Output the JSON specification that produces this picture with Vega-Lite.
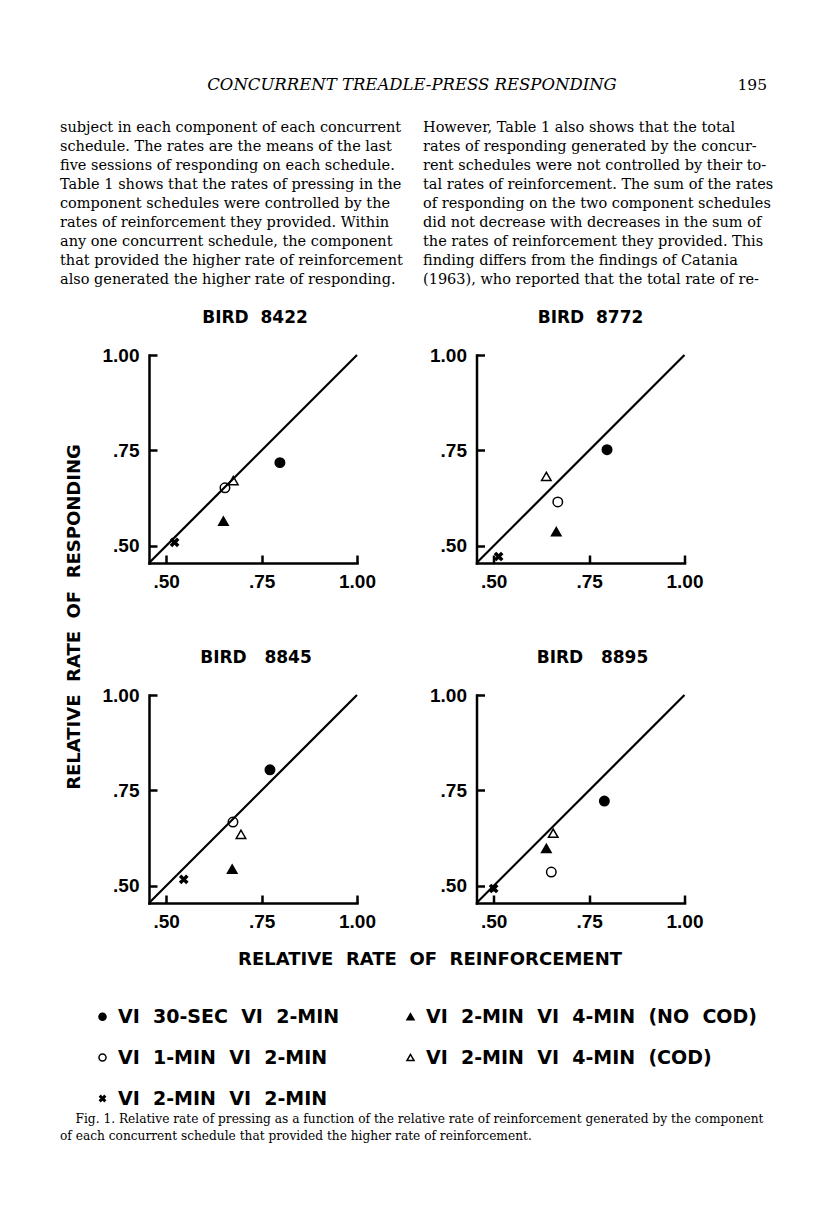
{
  "$schema": "https://vega.github.io/schema/vega-lite/v6.json",
  "background": "white",
  "padding": {"left": 60, "top": 77, "right": 5, "bottom": 5},
  "config": {
    "view": {"stroke": null},
    "axis": {"grid": false, "domainColor": "black", "domainWidth": 2.5, "domainCap": "square", "tickColor": "black", "tickWidth": 2.5, "tickSize": -8, "labelFont": "Liberation Sans", "labelFontWeight": "bold", "labelFontSize": 19, "labelColor": "black", "labelFlush": false, "labelOverlap": false},
    "axisX": {"labelPadding": 17, "labelBaseline": "top"},
    "axisY": {"labelPadding": 18},
    "title": {"font": "DejaVu Sans", "fontWeight": "bold", "fontSize": 17, "color": "black", "baseline": "alphabetic", "offset": 19}
  },
  "datasets": {
    "head": [
      {"role": "title", "text": "CONCURRENT TREADLE-PRESS RESPONDING"},
      {"role": "page", "text": "195"}
    ],
    "body": [
      {"col": "L", "line": 1, "text": "subject in each component of each concurrent"},
      {"col": "L", "line": 2, "text": "schedule. The rates are the means of the last"},
      {"col": "L", "line": 3, "text": "five sessions of responding on each schedule."},
      {"col": "L", "line": 4, "text": "Table 1 shows that the rates of pressing in the"},
      {"col": "L", "line": 5, "text": "component schedules were controlled by the"},
      {"col": "L", "line": 6, "text": "rates of reinforcement they provided. Within"},
      {"col": "L", "line": 7, "text": "any one concurrent schedule, the component"},
      {"col": "L", "line": 8, "text": "that provided the higher rate of reinforcement"},
      {"col": "L", "line": 9, "text": "also generated the higher rate of responding."},
      {"col": "R", "line": 1, "text": "However, Table 1 also shows that the total"},
      {"col": "R", "line": 2, "text": "rates of responding generated by the concur-"},
      {"col": "R", "line": 3, "text": "rent schedules were not controlled by their to-"},
      {"col": "R", "line": 4, "text": "tal rates of reinforcement. The sum of the rates"},
      {"col": "R", "line": 5, "text": "of responding on the two component schedules"},
      {"col": "R", "line": 6, "text": "did not decrease with decreases in the sum of"},
      {"col": "R", "line": 7, "text": "the rates of reinforcement they provided. This"},
      {"col": "R", "line": 8, "text": "finding differs from the findings of Catania"},
      {"col": "R", "line": 9, "text": "(1963), who reported that the total rate of re-"}
    ],
    "diag": [{"x": 0.455, "y": 0.455}, {"x": 1.0, "y": 1.0}],
    "pts": [
      {"bird": "8422", "cond": "VI 30-SEC VI 2-MIN", "x": 0.798, "y": 0.718},
      {"bird": "8422", "cond": "VI 1-MIN VI 2-MIN", "x": 0.654, "y": 0.652},
      {"bird": "8422", "cond": "VI 2-MIN VI 4-MIN (COD)", "x": 0.676, "y": 0.671},
      {"bird": "8422", "cond": "VI 2-MIN VI 4-MIN (NO COD)", "x": 0.650, "y": 0.565},
      {"bird": "8422", "cond": "VI 2-MIN VI 2-MIN", "x": 0.522, "y": 0.509},
      {"bird": "8772", "cond": "VI 30-SEC VI 2-MIN", "x": 0.797, "y": 0.752},
      {"bird": "8772", "cond": "VI 2-MIN VI 4-MIN (COD)", "x": 0.638, "y": 0.682},
      {"bird": "8772", "cond": "VI 1-MIN VI 2-MIN", "x": 0.668, "y": 0.615},
      {"bird": "8772", "cond": "VI 2-MIN VI 4-MIN (NO COD)", "x": 0.664, "y": 0.537},
      {"bird": "8772", "cond": "VI 2-MIN VI 2-MIN", "x": 0.513, "y": 0.472},
      {"bird": "8845", "cond": "VI 30-SEC VI 2-MIN", "x": 0.772, "y": 0.804},
      {"bird": "8845", "cond": "VI 1-MIN VI 2-MIN", "x": 0.675, "y": 0.667},
      {"bird": "8845", "cond": "VI 2-MIN VI 4-MIN (COD)", "x": 0.696, "y": 0.635},
      {"bird": "8845", "cond": "VI 2-MIN VI 4-MIN (NO COD)", "x": 0.673, "y": 0.544},
      {"bird": "8845", "cond": "VI 2-MIN VI 2-MIN", "x": 0.546, "y": 0.517},
      {"bird": "8895", "cond": "VI 30-SEC VI 2-MIN", "x": 0.790, "y": 0.722},
      {"bird": "8895", "cond": "VI 2-MIN VI 4-MIN (COD)", "x": 0.656, "y": 0.638},
      {"bird": "8895", "cond": "VI 2-MIN VI 4-MIN (NO COD)", "x": 0.638, "y": 0.598},
      {"bird": "8895", "cond": "VI 1-MIN VI 2-MIN", "x": 0.651, "y": 0.536},
      {"bird": "8895", "cond": "VI 2-MIN VI 2-MIN", "x": 0.500, "y": 0.493}
    ]
  },
  "title": {
    "text": ["\u200b\u00a0\u00a0\u00a0\u00a0Fig. 1. Relative rate of pressing as a function of the relative rate of reinforcement generated by the component", "of each concurrent schedule that provided the higher rate of reinforcement."],
    "orient": "bottom", "anchor": "start", "font": "DejaVu Serif", "fontSize": 12.2, "fontWeight": "normal", "lineHeight": 17, "baseline": "top", "offset": -29
  },
  "spacing": 19,
  "vconcat": [
    {
      "spacing": 24.5,
      "vconcat": [
        {
          "width": 700, "height": 16,
          "data": {"name": "head"},
          "encoding": {
            "x": {"field": "role", "type": "nominal", "axis": null, "scale": {"type": "point", "domain": ["title", "page"], "range": [352, 707], "padding": 0}},
            "text": {"field": "text"}
          },
          "layer": [
            {"transform": [{"filter": "datum.role == 'title'"}], "mark": {"type": "text", "font": "DejaVu Serif", "fontStyle": "italic", "fontSize": 16.5, "align": "center", "baseline": "middle", "color": "black"}},
            {"transform": [{"filter": "datum.role == 'page'"}], "mark": {"type": "text", "font": "DejaVu Serif", "fontSize": 15.5, "align": "right", "baseline": "middle", "color": "black"}}
          ]
        },
        {
          "width": 700, "height": 171,
          "data": {"name": "body"},
          "mark": {"type": "text", "font": "DejaVu Serif", "fontSize": 14.5, "align": "left", "baseline": "middle", "color": "black"},
          "encoding": {
            "x": {"field": "col", "type": "nominal", "axis": null, "scale": {"type": "point", "domain": ["L", "R"], "range": [0, 363], "padding": 0}},
            "y": {"field": "line", "type": "ordinal", "axis": null, "scale": {"type": "point", "padding": 0.5}},
            "text": {"field": "text"}
          }
        }
      ]
    },
    {
      "spacing": 12,
      "hconcat": [
        {
          "width": 30, "height": 524,
          "data": {"values": [{"label": "RELATIVE\u00a0\u00a0RATE\u00a0\u00a0OF\u00a0\u00a0RESPONDING"}]},
          "mark": {"type": "text", "angle": 270, "font": "DejaVu Sans", "fontWeight": "bold", "fontSize": 18, "align": "center", "baseline": "middle", "color": "black"},
          "encoding": {"text": {"field": "label"}}
        },
        {
          "spacing": 58,
          "vconcat": [
            {
              "spacing": 53.5,
              "hconcat": [
                {
                  "width": 208, "height": 208,
                  "title": {"text": "BIRD\u00a0\u00a08422", "dx": 2},
                  "encoding": {
                    "x": {"field": "x", "type": "quantitative", "scale": {"domain": [0.455, 1.0], "nice": false, "zero": false}, "axis": {"title": null, "values": [0.5, 0.75, 1.0], "labelExpr": "replace(format(datum.value, '.2f'), '0.', '.')"}},
                    "y": {"field": "y", "type": "quantitative", "scale": {"domain": [0.455, 1.0], "nice": false, "zero": false}, "axis": {"title": null, "values": [0.5, 0.75, 1.0], "labelExpr": "replace(format(datum.value, '.2f'), '0.', '.')"}}
                  },
                  "layer": [
                    {"data": {"name": "diag"}, "mark": {"type": "line", "color": "black", "strokeWidth": 2.2}},
                    {"data": {"name": "pts"}, "transform": [{"filter": "datum.bird == '8422'"}],
                     "mark": {"type": "point", "filled": true, "stroke": "black", "strokeWidth": 1.5, "size": 90, "opacity": 1},
                     "encoding": {
                       "shape": {"field": "cond", "type": "nominal", "scale": {"domain": ["VI 30-SEC VI 2-MIN", "VI 2-MIN VI 4-MIN (NO COD)", "VI 1-MIN VI 2-MIN", "VI 2-MIN VI 4-MIN (COD)", "VI 2-MIN VI 2-MIN"], "range": ["circle", "triangle-up", "circle", "triangle-up", "M-0.8,-0.5L-0.5,-0.8L0,-0.3L0.5,-0.8L0.8,-0.5L0.3,0L0.8,0.5L0.5,0.8L0,0.3L-0.5,0.8L-0.8,0.5L-0.3,0Z"]},
                         "legend": {"title": null, "orient": "bottom", "direction": "horizontal", "columns": 2, "labelFont": "DejaVu Sans", "labelFontWeight": "bold", "labelFontSize": 19, "labelColor": "black", "labelLimit": 600, "labelOffset": 6, "symbolSize": 50, "rowPadding": 21, "columnPadding": 61, "padding": 33, "offset": 4, "labelExpr": "replace(datum.label, regexp(' ', 'g'), '\u00a0\u00a0')", "encode": {"symbols": {"update": {"stroke": {"value": "black"}, "strokeWidth": {"value": 1.3}}}}}},
                       "fill": {"field": "cond", "type": "nominal", "scale": {"domain": ["VI 30-SEC VI 2-MIN", "VI 2-MIN VI 4-MIN (NO COD)", "VI 1-MIN VI 2-MIN", "VI 2-MIN VI 4-MIN (COD)", "VI 2-MIN VI 2-MIN"], "range": ["black", "black", "transparent", "transparent", "black"]},
                         "legend": {"title": null, "orient": "bottom", "direction": "horizontal", "columns": 2, "labelFont": "DejaVu Sans", "labelFontWeight": "bold", "labelFontSize": 19, "labelColor": "black", "labelLimit": 600, "labelOffset": 6, "symbolSize": 50, "rowPadding": 21, "columnPadding": 61, "padding": 33, "offset": 4, "labelExpr": "replace(datum.label, regexp(' ', 'g'), '\u00a0\u00a0')", "encode": {"symbols": {"update": {"stroke": {"value": "black"}, "strokeWidth": {"value": 1.3}}}}}}
                     }}
                  ]
                },
                {
                  "width": 208, "height": 208,
                  "title": {"text": "BIRD\u00a0\u00a08772", "dx": 10},
                  "encoding": {
                    "x": {"field": "x", "type": "quantitative", "scale": {"domain": [0.455, 1.0], "nice": false, "zero": false}, "axis": {"title": null, "values": [0.5, 0.75, 1.0], "labelExpr": "replace(format(datum.value, '.2f'), '0.', '.')"}},
                    "y": {"field": "y", "type": "quantitative", "scale": {"domain": [0.455, 1.0], "nice": false, "zero": false}, "axis": {"title": null, "values": [0.5, 0.75, 1.0], "labelExpr": "replace(format(datum.value, '.2f'), '0.', '.')"}}
                  },
                  "layer": [
                    {"data": {"name": "diag"}, "mark": {"type": "line", "color": "black", "strokeWidth": 2.2}},
                    {"data": {"name": "pts"}, "transform": [{"filter": "datum.bird == '8772'"}],
                     "mark": {"type": "point", "filled": true, "stroke": "black", "strokeWidth": 1.5, "size": 90, "opacity": 1},
                     "encoding": {
                       "shape": {"field": "cond", "type": "nominal"},
                       "fill": {"field": "cond", "type": "nominal"}
                     }}
                  ]
                }
              ]
            },
            {
              "spacing": 53.5,
              "hconcat": [
                {
                  "width": 208, "height": 208,
                  "title": {"text": "BIRD\u00a0\u00a0\u00a08845", "dx": 3},
                  "encoding": {
                    "x": {"field": "x", "type": "quantitative", "scale": {"domain": [0.455, 1.0], "nice": false, "zero": false}, "axis": {"title": null, "values": [0.5, 0.75, 1.0], "labelExpr": "replace(format(datum.value, '.2f'), '0.', '.')"}},
                    "y": {"field": "y", "type": "quantitative", "scale": {"domain": [0.455, 1.0], "nice": false, "zero": false}, "axis": {"title": null, "values": [0.5, 0.75, 1.0], "labelExpr": "replace(format(datum.value, '.2f'), '0.', '.')"}}
                  },
                  "layer": [
                    {"data": {"name": "diag"}, "mark": {"type": "line", "color": "black", "strokeWidth": 2.2}},
                    {"data": {"name": "pts"}, "transform": [{"filter": "datum.bird == '8845'"}],
                     "mark": {"type": "point", "filled": true, "stroke": "black", "strokeWidth": 1.5, "size": 90, "opacity": 1},
                     "encoding": {
                       "shape": {"field": "cond", "type": "nominal"},
                       "fill": {"field": "cond", "type": "nominal"}
                     }}
                  ]
                },
                {
                  "width": 208, "height": 208,
                  "title": {"text": "BIRD\u00a0\u00a0\u00a08895", "dx": 12},
                  "encoding": {
                    "x": {"field": "x", "type": "quantitative", "scale": {"domain": [0.455, 1.0], "nice": false, "zero": false}, "axis": {"title": null, "values": [0.5, 0.75, 1.0], "labelExpr": "replace(format(datum.value, '.2f'), '0.', '.')"}},
                    "y": {"field": "y", "type": "quantitative", "scale": {"domain": [0.455, 1.0], "nice": false, "zero": false}, "axis": {"title": null, "values": [0.5, 0.75, 1.0], "labelExpr": "replace(format(datum.value, '.2f'), '0.', '.')"}}
                  },
                  "layer": [
                    {"data": {"name": "diag"}, "mark": {"type": "line", "color": "black", "strokeWidth": 2.2}},
                    {"data": {"name": "pts"}, "transform": [{"filter": "datum.bird == '8895'"}],
                     "mark": {"type": "point", "filled": true, "stroke": "black", "strokeWidth": 1.5, "size": 90, "opacity": 1},
                     "encoding": {
                       "shape": {"field": "cond", "type": "nominal"},
                       "fill": {"field": "cond", "type": "nominal"}
                     }}
                  ]
                }
              ]
            }
          ]
        }
      ]
    },
    {
      "width": 740, "height": 20,
      "data": {"values": [{"label": "RELATIVE\u00a0\u00a0RATE\u00a0\u00a0OF\u00a0\u00a0REINFORCEMENT"}]},
      "mark": {"type": "text", "font": "DejaVu Sans", "fontWeight": "bold", "fontSize": 18, "align": "center", "baseline": "middle", "color": "black"},
      "encoding": {"text": {"field": "label"}}
    }
  ]
}
